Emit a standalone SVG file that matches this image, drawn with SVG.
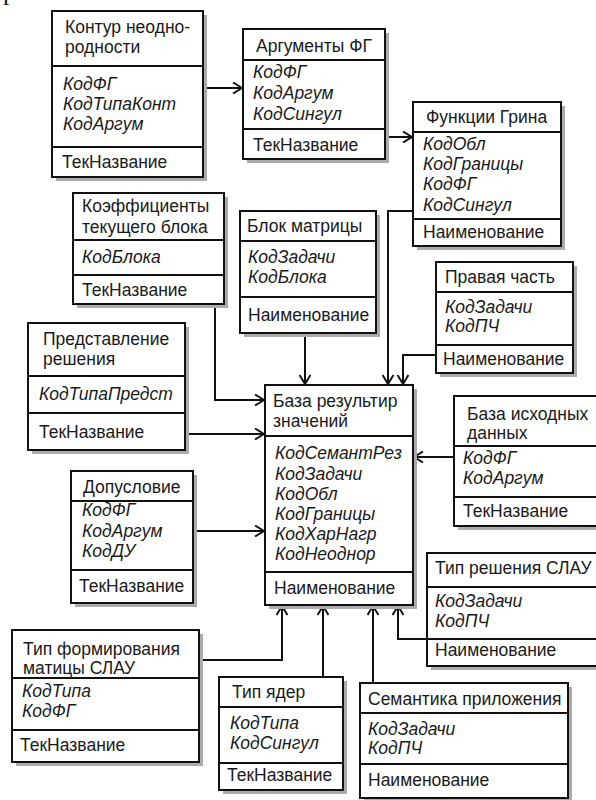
<svg xmlns="http://www.w3.org/2000/svg" width="596" height="800" viewBox="0 0 596 800">
  <style>
    .box { fill: #ffffff; stroke: #111111; stroke-width: 2; }
    .shadow { fill: #ababab; }
    .div { stroke: #111111; stroke-width: 2; fill: none; }
    text { font-family: "Liberation Sans", Arial, sans-serif; font-size: 17.5px; fill: #1a1a1a; }
    .key { font-style: italic; }
    .link { fill: none; stroke: #111111; stroke-width: 2; marker-end: url(#arrow); }
  </style>
  <defs>
    <marker id="arrow" viewBox="0 0 12 12" refX="11" refY="6" markerWidth="12" markerHeight="12" markerUnits="userSpaceOnUse" orient="auto">
      <path d="M2,0.5 L11,6 L2,11.5" fill="none" stroke="#111111" stroke-width="2"/>
    </marker>
  </defs>
  <rect width="596" height="800" fill="#ffffff"/>

  <!-- page fragment at the top edge -->
  <text x="3" y="0" style="font-family: 'Liberation Serif', serif; font-size: 26px;">р</text>

  <!-- connectors -->
  <g id="connectors">
    <path class="link" d="M203,88 H242"/>
    <path class="link" d="M385,137 H412"/>
    <path class="link" d="M413,211 H388 V384"/>
    <path class="link" d="M305,333 V384"/>
    <path class="link" d="M436,355 H403 V384"/>
    <path class="link" d="M215,304 V400 H264"/>
    <path class="link" d="M185,434 H264"/>
    <path class="link" d="M454,457 H414"/>
    <path class="link" d="M193,531 H264"/>
    <path class="link" d="M199,660 H282 V606"/>
    <path class="link" d="M323,677 V606"/>
    <path class="link" d="M373,683 V606"/>
    <path class="link" d="M427,639 H398 V606"/>
  </g>

  <g id="kontur">
    <rect class="shadow" x="56" y="15" width="151" height="166"/>
    <rect class="box" x="52" y="11" width="151" height="166"/>
    <path class="div" d="M52,66 H203 M52,147 H203"/>
    <text x="65" y="33">Контур неодно-</text>
    <text x="65" y="53">родности</text>
    <text class="key" x="63" y="90">КодФГ</text>
    <text class="key" x="63" y="110">КодТипаКонт</text>
    <text class="key" x="63" y="130">КодАргум</text>
    <text x="62" y="168">ТекНазвание</text>
  </g>

  <g id="argumenty">
    <rect class="shadow" x="247" y="33" width="142" height="130"/>
    <rect class="box" x="243" y="29" width="142" height="130"/>
    <path class="div" d="M243,60 H385 M243,129 H385"/>
    <text x="256" y="52">Аргументы ФГ</text>
    <text class="key" x="253" y="78">КодФГ</text>
    <text class="key" x="253" y="99">КодАргум</text>
    <text class="key" x="253" y="120">КодСингул</text>
    <text x="253" y="151">ТекНазвание</text>
  </g>

  <g id="funkcii-grina">
    <rect class="shadow" x="417" y="106" width="148" height="144"/>
    <rect class="box" x="413" y="102" width="148" height="144"/>
    <path class="div" d="M413,132 H561 M413,219 H561"/>
    <text x="426" y="123">Функции Грина</text>
    <text class="key" x="423" y="150">КодОбл</text>
    <text class="key" x="423" y="170">КодГраницы</text>
    <text class="key" x="423" y="190">КодФГ</text>
    <text class="key" x="423" y="211">КодСингул</text>
    <text x="423" y="238">Наименование</text>
  </g>

  <g id="koefficienty">
    <rect class="shadow" x="77" y="197" width="151" height="111"/>
    <rect class="box" x="73" y="193" width="151" height="111"/>
    <path class="div" d="M73,240 H224 M73,275 H224"/>
    <text x="82" y="212">Коэффициенты</text>
    <text x="82" y="233">текущего блока</text>
    <text class="key" x="82" y="263">КодБлока</text>
    <text x="82" y="296">ТекНазвание</text>
  </g>

  <g id="blok-matricy">
    <rect class="shadow" x="244" y="215" width="136" height="122"/>
    <rect class="box" x="240" y="211" width="136" height="122"/>
    <path class="div" d="M240,241 H376 M240,297 H376"/>
    <text x="247" y="232">Блок матрицы</text>
    <text class="key" x="248" y="263">КодЗадачи</text>
    <text class="key" x="248" y="283">КодБлока</text>
    <text x="248" y="321">Наименование</text>
  </g>

  <g id="pravaya-chast">
    <rect class="shadow" x="440" y="266" width="137" height="111"/>
    <rect class="box" x="436" y="262" width="137" height="111"/>
    <path class="div" d="M436,292 H573 M436,345 H573"/>
    <text x="445" y="283">Правая часть</text>
    <text class="key" x="445" y="313">КодЗадачи</text>
    <text class="key" x="445" y="332">КодПЧ</text>
    <text x="443" y="365">Наименование</text>
  </g>

  <g id="predstavlenie">
    <rect class="shadow" x="32" y="327" width="157" height="127"/>
    <rect class="box" x="28" y="323" width="157" height="127"/>
    <path class="div" d="M28,376 H185 M28,413 H185"/>
    <text x="43" y="345">Представление</text>
    <text x="43" y="365">решения</text>
    <text class="key" x="39" y="400">КодТипаПредст</text>
    <text x="39" y="438">ТекНазвание</text>
  </g>

  <g id="baza-rezultatov">
    <rect class="shadow" x="269" y="389" width="148" height="220"/>
    <rect class="box" x="265" y="385" width="148" height="220"/>
    <path class="div" d="M265,436 H413 M265,572 H413"/>
    <text x="273" y="407">База результир</text>
    <text x="273" y="427">значений</text>
    <text class="key" x="275" y="459">КодСемантРез</text>
    <text class="key" x="275" y="480">КодЗадачи</text>
    <text class="key" x="275" y="500">КодОбл</text>
    <text class="key" x="275" y="520">КодГраницы</text>
    <text class="key" x="275" y="540">КодХарНагр</text>
    <text class="key" x="275" y="560">КодНеоднор</text>
    <text x="274" y="594">Наименование</text>
  </g>

  <g id="baza-ishodnyh">
    <rect class="shadow" x="458" y="400" width="150" height="130"/>
    <rect class="box" x="454" y="396" width="150" height="130"/>
    <path class="div" d="M454,446 H604 M454,497 H604"/>
    <text x="467" y="420">База исходных</text>
    <text x="467" y="439">данных</text>
    <text class="key" x="463" y="464">КодФГ</text>
    <text class="key" x="463" y="484">КодАргум</text>
    <text x="463" y="517">ТекНазвание</text>
  </g>

  <g id="dopuslovie">
    <rect class="shadow" x="75" y="475" width="122" height="132"/>
    <rect class="box" x="71" y="471" width="122" height="132"/>
    <path class="div" d="M71,501 H193 M71,570 H193"/>
    <text x="83" y="493">Допусловие</text>
    <text class="key" x="82" y="516">КодФГ</text>
    <text class="key" x="82" y="537">КодАргум</text>
    <text class="key" x="82" y="557">КодДУ</text>
    <text x="79" y="592">ТекНазвание</text>
  </g>

  <g id="tip-resheniya">
    <rect class="shadow" x="431" y="557" width="175" height="113"/>
    <rect class="box" x="427" y="553" width="175" height="113"/>
    <path class="div" d="M427,587 H602 M427,639 H602"/>
    <text x="435" y="574">Тип решения СЛАУ</text>
    <text class="key" x="435" y="607">КодЗадачи</text>
    <text class="key" x="435" y="627">КодПЧ</text>
    <text x="435" y="656">Наименование</text>
  </g>

  <g id="tip-formirovaniya">
    <rect class="shadow" x="16" y="634" width="187" height="132"/>
    <rect class="box" x="12" y="630" width="187" height="132"/>
    <path class="div" d="M12,678 H199 M12,730 H199"/>
    <text x="23" y="655">Тип формирования</text>
    <text x="23" y="674">матицы СЛАУ</text>
    <text class="key" x="22" y="697">КодТипа</text>
    <text class="key" x="22" y="717">КодФГ</text>
    <text x="20" y="751">ТекНазвание</text>
  </g>

  <g id="tip-yader">
    <rect class="shadow" x="223" y="681" width="124" height="113"/>
    <rect class="box" x="219" y="677" width="124" height="113"/>
    <path class="div" d="M219,707 H343 M219,763 H343"/>
    <text x="232" y="698">Тип ядер</text>
    <text class="key" x="230" y="729">КодТипа</text>
    <text class="key" x="230" y="749">КодСингул</text>
    <text x="227" y="781">ТекНазвание</text>
  </g>

  <g id="semantika">
    <rect class="shadow" x="364" y="687" width="208" height="115"/>
    <rect class="box" x="360" y="683" width="208" height="115"/>
    <path class="div" d="M360,713 H568 M360,764 H568"/>
    <text x="368" y="705">Семантика приложения</text>
    <text class="key" x="368" y="735">КодЗадачи</text>
    <text class="key" x="368" y="754">КодПЧ</text>
    <text x="368" y="786">Наименование</text>
  </g>
</svg>
